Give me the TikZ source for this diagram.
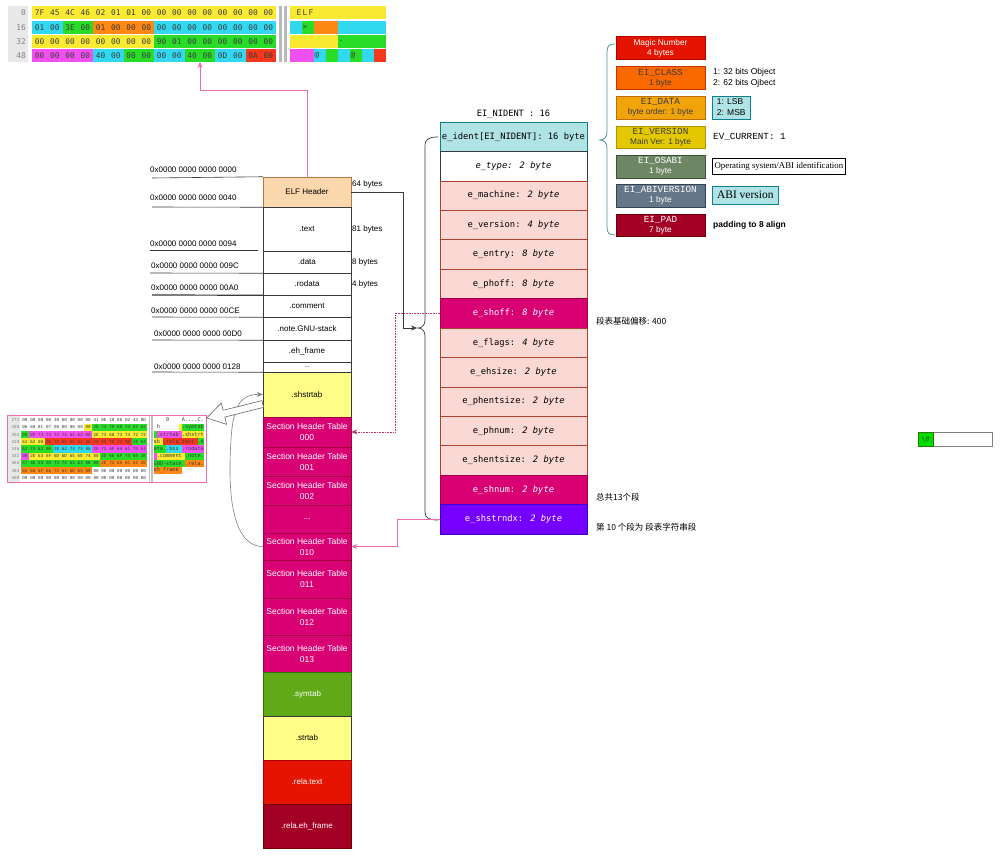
\documentclass[tikz,border=0pt]{standalone}
\usepackage{fontspec}
\setmainfont{Liberation Sans}
\newfontfamily\dmono{DejaVu Sans Mono}
\newfontfamily\cmono{Liberation Mono}
\newfontfamily\tserif{Liberation Serif}
\newfontfamily\cjk{Noto Sans CJK SC}
\usetikzlibrary{arrows.meta,calc}
\newcommand\fsz[2]{\fontsize{#1}{#2}\selectfont}
\newcommand\eimono[1]{{\cmono\fsz{9.3}{10}#1}}
\newcommand\bk{\hphantom{x}}
\definecolor{lc}{RGB}{54,57,61}
\definecolor{elff}{RGB}{250,215,172}
\definecolor{elfd}{RGB}{180,120,60}
\definecolor{yel}{RGB}{255,255,136}
\definecolor{mag}{RGB}{216,0,115}
\definecolor{magd}{RGB}{165,0,64}
\definecolor{grn}{RGB}{96,169,23}
\definecolor{grnd}{RGB}{45,118,0}
\definecolor{redf}{RGB}{229,20,0}
\definecolor{redd}{RGB}{178,0,0}
\definecolor{dred}{RGB}{162,0,37}
\definecolor{dredd}{RGB}{111,0,0}
\definecolor{cyf}{RGB}{176,227,230}
\definecolor{cyd}{RGB}{14,128,136}
\definecolor{pkf}{RGB}{250,217,213}
\definecolor{pkd}{RGB}{174,65,50}
\definecolor{pur}{RGB}{118,0,255}
\definecolor{purd}{RGB}{55,0,204}
\definecolor{org}{RGB}{250,104,0}
\definecolor{orgd}{RGB}{199,53,0}
\definecolor{amb}{RGB}{240,163,10}
\definecolor{ambd}{RGB}{189,112,0}
\definecolor{ylw}{RGB}{227,200,0}
\definecolor{ylwd}{RGB}{176,149,0}
\definecolor{olv}{RGB}{109,135,100}
\definecolor{olvd}{RGB}{58,84,49}
\definecolor{slt}{RGB}{100,118,135}
\definecolor{sltd}{RGB}{49,67,84}
\definecolor{pinkc}{RGB}{232,110,170}
\definecolor{pinkdot}{RGB}{190,50,110}
\definecolor{brc}{RGB}{80,150,160}
\definecolor{hY}{RGB}{250,235,50}
\definecolor{hC}{RGB}{50,215,240}
\definecolor{hG}{RGB}{40,220,40}
\definecolor{hO}{RGB}{255,135,20}
\definecolor{hM}{RGB}{240,80,240}
\definecolor{hR}{RGB}{245,55,30}
\definecolor{hW}{RGB}{255,255,255}
\definecolor{htx}{RGB}{60,60,60}
\definecolor{hlb}{RGB}{232,232,232}
\begin{document}
\begin{tikzpicture}[x=1pt,y=-1pt,
  lbox/.style={draw=lc, line width=0.5pt, minimum width=88pt, inner sep=0pt, align=center, font=\fsz{8}{9.6}},
  shtbox/.style={lbox, fill=mag, draw=magd, text=white, font=\fsz{8.5}{11}},
  fld/.style={draw=pkd, line width=0.5pt, fill=pkf, minimum width=147pt, minimum height=29.43pt, inner sep=0pt, font=\dmono\fsz{8.8}{10}},
  hot/.style={fld, fill=mag, draw=magd, text=white},
  eibox/.style={minimum width=89pt, minimum height=22.5pt, inner sep=0pt, align=center, line width=0.5pt, font=\fsz{8.3}{10}},
  addr/.style={anchor=west, inner sep=0pt, font=\fsz{8}{9.6}},
  note/.style={anchor=west, inner sep=0pt, font=\fsz{8.5}{11}, align=left},
  cnote/.style={anchor=west, inner sep=0pt, font=\cjk\fsz{8.5}{10}},
  sepline/.style={line width=0.6pt, lc},
  hexa/.style={inner sep=0pt, font=\dmono\fsz{7.8}{8}, text=htx},
  hexb/.style={inner sep=0pt, font=\dmono\fsz{4.2}{5}, text=htx},
  arr/.style={-{Stealth[length=6pt,width=5pt]}, line width=0.6pt},
]
\useasboundingbox (0,0) rectangle (1000,856);
\fill[white] (0,0) rectangle (1000,856);

% ---------- top hex dump ----------
\node[inner sep=0pt, minimum width=380pt, minimum height=57pt, anchor=north west] (hexdump) at (7,5) {};
\fill[hlb] (8,6) rectangle (28,62);
\foreach \r/\t in {0/0,1/16,2/32,3/48}
  \node[hexa, anchor=east, text=gray] (lbl\r) at (26,{13+14.2*\r}) {\t};
\foreach \r/\rl in {
 0/{Y/7F,Y/45,Y/4C,Y/46,Y/02,Y/01,Y/01,Y/00,Y/00,Y/00,Y/00,Y/00,Y/00,Y/00,Y/00,Y/00},
 1/{C/01,C/00,G/3E,G/00,O/01,O/00,O/00,O/00,C/00,C/00,C/00,C/00,C/00,C/00,C/00,C/00},
 2/{Y/00,Y/00,Y/00,Y/00,Y/00,Y/00,Y/00,Y/00,G/90,G/01,G/00,G/00,G/00,G/00,G/00,G/00},
 3/{M/00,M/00,M/00,M/00,C/40,C/00,G/00,G/00,C/00,C/00,G/40,G/00,C/0D,C/00,R/0A,R/00}}{
  \foreach \c/\b [count=\k from 0] in \rl {
    \fill[h\c] ({32+15.25*\k},{6.5+14.2*\r}) rectangle ++(15.25,13);
    \fill[h\c] ({290+6*\k},{6.5+14.2*\r}) rectangle ++(6,13);
    \node[hexa] (hx\r-\k) at ({32+15.25*\k+7.6},{13+14.2*\r}) {\b};
  }
}
\foreach \r/\p/\ch in {0/1/E,0/2/L,0/3/F,1/2/>,2/8/.,3/4/@,3/10/@}
  \node[hexa] (as\r-\p) at ({290+6*\p+3},{13+14.2*\r}) {\ch};
\fill[gray!55] (279,6) rectangle (281.5,62);
\fill[gray!55] (284,6) rectangle (286.5,62);

% ---------- left column ----------
\node[lbox, fill=elff, draw=elfd, minimum height=30pt] (elf) at (307,192) {ELF Header};
\node[lbox, minimum height=44pt] (text) at (307,229) {.text};
\node[lbox, minimum height=22pt] (data) at (307,262) {.data};
\node[lbox, minimum height=22pt] (rodata) at (307,284) {.rodata};
\node[lbox, minimum height=22pt] (comment) at (307,306) {.comment};
\node[lbox, minimum height=23pt] (gnustack) at (307,328.5) {.note.GNU-stack};
\node[lbox, minimum height=22pt] (ehframe) at (307,351) {.eh\_frame};
\node[lbox, minimum height=10pt, font=\fsz{6}{6}] (dots1) at (307,367) {...};
\node[lbox, fill=yel, minimum height=45pt] (shstrtab) at (307,394.5) {.shstrtab};
\node[shtbox, minimum height=30pt] (sht000) at (307,432) {Section Header Table\\000};
\node[shtbox, minimum height=29pt] (sht001) at (307,461.5) {Section Header Table\\001};
\node[shtbox, minimum height=29pt] (sht002) at (307,490.5) {Section Header Table\\002};
\node[shtbox, minimum height=28pt] (shtdots) at (307,519) {...};
\node[shtbox, minimum height=27pt] (sht010) at (307,546.5) {Section Header Table\\010};
\node[shtbox, minimum height=38pt] (sht011) at (307,579) {Section Header Table\\011};
\node[shtbox, minimum height=37pt] (sht012) at (307,616.5) {Section Header Table\\012};
\node[shtbox, minimum height=37pt] (sht013) at (307,653.5) {Section Header Table\\013};
\node[lbox, fill=grn, draw=grnd, text=white, minimum height=44pt] (symtab) at (307,694) {.symtab};
\node[lbox, fill=yel, minimum height=44pt] (strtab) at (307,738) {.strtab};
\node[lbox, fill=redf, draw=redd, text=white, minimum height=44pt] (relatext) at (307,782) {.rela.text};
\node[lbox, fill=dred, draw=dredd, text=white, minimum height=44pt] (relaeh) at (307,826) {.rela.eh\_frame};

% addresses
\foreach \n/\yy/\xx/\t in {a0/170/150/0000,a1/198/150/0040,a2/244/150/0094,a3/266/151/009C,a4/288/151/00A0,a5/311/151/00CE,a6/334/154/00D0,a7/367/154/0128}
  \node[addr] (\n) at (\xx,\yy) {0x0000 0000 0000 \t};
\draw[sepline] (152,178) -- (elf.north west);
\draw[sepline] (152,207) -- (elf.south west);
\draw[sepline] (150,250) -- (258,250);
\draw[sepline] (150,273) -- (data.south west);
\draw[sepline, line width=1.2pt] (152,295) -- (rodata.south west);
\draw[sepline] (152,317) -- (comment.south west);
\draw[sepline] (152,340) -- (gnustack.south west);
\draw[sepline] (152,372) -- (dots1.south west);

% sizes
\node[addr] (s64) at (352,184) {64 bytes};
\node[addr] (s81) at (352,229) {81 bytes};
\node[addr] (s8) at (352,262) {8 bytes};
\node[addr] (s4) at (352,284) {4 bytes};

% ---------- header fields ----------
\node[inner sep=0pt, font=\dmono\fsz{8.7}{10}] (einid) at (513.5,114) {EI\_NIDENT : 16};
\node[fld, fill=cyf, draw=cyd] (f0) at (513.5,136.7) {e\_ident[EI\_NIDENT]: 16 byte};
\node[fld, fill=white, draw=lc] (f1) at (513.5,166.1) {\itshape e\_type: 2 byte};
\node[fld] (f2) at (513.5,195.6) {e\_machine: \textit{2 byte}};
\node[fld] (f3) at (513.5,225.0) {e\_version: \textit{4 byte}};
\node[fld] (f4) at (513.5,254.4) {e\_entry: \textit{8 byte}};
\node[fld] (f5) at (513.5,283.9) {e\_phoff: \textit{8 byte}};
\node[hot] (f6) at (513.5,313.3) {e\_shoff: \textit{8 byte}};
\node[fld] (f7) at (513.5,342.7) {e\_flags: \textit{4 byte}};
\node[fld] (f8) at (513.5,372.2) {e\_ehsize: \textit{2 byte}};
\node[fld] (f9) at (513.5,401.6) {e\_phentsize: \textit{2 byte}};
\node[fld] (f10) at (513.5,431.0) {e\_phnum: \textit{2 byte}};
\node[fld] (f11) at (513.5,460.4) {e\_shentsize: \textit{2 byte}};
\node[hot] (f12) at (513.5,489.9) {e\_shnum: \textit{2 byte}};
\node[hot, fill=pur, draw=purd] (f13) at (513.5,519.3) {e\_shstrndx: \textit{2 byte}};

\node[cnote] (n400) at (596,321) {段表基础偏移: 400};
\node[cnote] (n13) at (596,497) {总共13个段};
\node[cnote] (n10) at (596,527) {第 10 个段为 段表字符串段};

% big brace
\draw[line width=0.7pt, lc] (438,137) .. controls (429,137) and (425,139) .. (425,146) -- (425,320) .. controls (425,325) and (422,328) .. (418,328) .. controls (422,328) and (425,331) .. (425,336) -- (425,512) .. controls (425,518) and (429,520) .. (438,520);
\coordinate (btip) at (417,328);
\coordinate (bk) at (403,328);
\draw[arr, lc] (elf.east) -| (bk) -- (btip);

% ---------- e_ident details ----------
\node[eibox, fill=redf, draw=redd, text=white] (magic) at (660.5,48) {Magic Number\\4 bytes};
\node[eibox, fill=org, draw=orgd, text=htx] (eiclass) at (660.5,78) {\eimono{EI\_CLASS}\\1 byte};
\node[eibox, fill=amb, draw=ambd, text=htx] (eidata) at (660.5,107.5) {\eimono{EI\_DATA}\\byte order: 1 byte};
\node[eibox, fill=ylw, draw=ylwd, text=htx] (eiver) at (660.5,137) {\eimono{EI\_VERSION}\\Main Ver: 1 byte};
\node[eibox, fill=olv, draw=olvd, text=white] (eiosabi) at (660.5,166.5) {\eimono{EI\_OSABI}\\1 byte};
\node[eibox, fill=slt, draw=sltd, text=white] (eiabiv) at (660.5,195.5) {\eimono{EI\_ABIVERSION}\\1 byte};
\node[eibox, fill=dred, draw=dredd, text=white] (eipad) at (660.5,225) {\eimono{EI\_PAD}\\7 byte};

\draw[line width=0.8pt, brc] (615,44) .. controls (609,44) and (607,46) .. (607,52) -- (607,132) .. controls (607,137) and (604,140) .. (600,140) .. controls (604,140) and (607,143) .. (607,148) -- (607,227) .. controls (607,233) and (609,235) .. (615,235);

\node[note] (nclass) at (713,77.5) {1: 32 bits Object\\2: 62 bits Ojbect};
\node[note, draw=cyd, fill=cyf, minimum width=38pt, minimum height=23pt, inner xsep=2pt, line width=0.6pt] (nlsb) at (712,107.5) {1: LSB\\2: MSB};
\node[anchor=west, inner sep=0pt, font=\cmono\fsz{9.3}{10}] (nver) at (713,137) {EV\_CURRENT: 1};
\node[anchor=west, draw=black, fill=white, line width=0.8pt, minimum width=133pt, minimum height=16pt, inner sep=1pt, font=\tserif\fsz{8.8}{10}] (nos) at (712,166) {Operating system/ABI identification};
\node[anchor=west, draw=cyd, fill=cyf, line width=0.6pt, minimum width=66pt, minimum height=18pt, inner sep=1pt, font=\tserif\fsz{11.5}{12}] (nabi) at (712,195) {ABI version};
\node[note, font=\bfseries\fsz{8.5}{10}] (npad) at (713,225) {padding to 8 align};

% ---------- far right null box ----------
\node[draw=gray, line width=0.6pt, minimum width=74pt, minimum height=14pt, inner sep=0pt, anchor=west] (nulbox) at (918,439) {};
\node[draw=grnd, fill={rgb,255:red,0;green,220;blue,0}, line width=0.5pt, minimum width=15pt, minimum height=14pt, inner sep=0pt, font=\dmono\fsz{6.5}{7}, text={rgb,255:red,20;green,90;blue,20}] (nulcell) at (925.5,439) {\textbackslash 0};

% ---------- small hex dump ----------
\fill[hlb] (8,416) rectangle (20,481.5);
\foreach \r/\t in {0/272,1/288,2/304,3/320,4/336,5/352,6/368,7/384,8/400}
  \node[hexb, anchor=east, text=gray] (sl\r) at (19.5,{416.5+7.2*\r+3.6}) {\t};
\foreach \r/\rl in {
 0/{W/00,W/00,W/00,W/00,W/30,W/00,W/00,W/00,W/00,W/41,W/0E,W/10,W/86,W/02,W/43,W/0D},
 1/{W/06,W/68,W/8C,W/07,W/08,W/00,W/00,W/00,Y/00,G/2E,G/73,G/79,G/6D,G/74,G/61,G/62},
 2/{G/00,M/2E,M/73,M/74,M/72,M/74,M/61,M/62,M/00,Y/2E,Y/73,Y/68,Y/73,Y/74,Y/72,Y/74},
 3/{Y/61,Y/62,Y/00,R/2E,R/72,R/65,R/6C,R/61,R/2E,R/74,R/65,R/78,R/74,R/00,G/2E,G/64},
 4/{G/61,G/74,G/61,G/00,C/2E,C/62,C/73,C/73,C/00,M/2E,M/72,M/6F,M/64,M/61,M/74,M/61},
 5/{M/00,Y/2E,Y/63,Y/6F,Y/6D,Y/6D,Y/65,Y/6E,Y/74,Y/00,G/2E,G/6E,G/6F,G/74,G/65,G/2E},
 6/{G/47,G/4E,G/55,G/2D,G/73,G/74,G/61,G/63,G/6B,G/00,O/2E,O/72,O/65,O/6C,O/61,O/2E},
 7/{O/65,O/68,O/5F,O/66,O/72,O/61,O/6D,O/65,O/00,W/00,W/00,W/00,W/00,W/00,W/00,W/00},
 8/{W/00,W/00,W/00,W/00,W/00,W/00,W/00,W/00,W/00,W/00,W/00,W/00,W/00,W/00,W/00,W/00}}{
  \foreach \c/\b [count=\k from 0] in \rl {
    \fill[h\c] ({21+7.9*\k},{416.5+7.2*\r}) rectangle ++(7.9,7.2);
    \fill[h\c] ({153.5+3.15*\k},{416.5+7.2*\r}) rectangle ++(3.15,7.2);
    \node[hexb] (sx\r-\k) at ({21+7.9*\k+3.95},{416.5+7.2*\r+3.6}) {\b};
  }
}
\foreach \r/\s in {0/{\bk\bk\bk\bk0\bk\bk\bk\bk A....C.},1/{\bk h\bk\bk\bk\bk\bk\bk\bk.symtab},2/{\bk.strtab\bk.shstrt},3/{ab\bk.rela.text\bk.d},4/{ata\bk.bss\bk.rodata},5/{\bk.comment\bk.note.},6/{GNU-stack\bk.rela.},7/{eh\_frame}}
  \node[anchor=west, inner sep=0pt, font=\dmono\fsz{5.2}{6}, text=htx] (sa\r) at (153.5,{416.5+7.2*\r+3.6}) {\s};
\fill[gray!50] (148.5,416) rectangle (150,481.5);
\fill[gray!50] (151,416) rectangle (152.5,481.5);
\node[draw=pinkc, line width=0.9pt, minimum width=199pt, minimum height=67pt, inner sep=0pt, anchor=north west] (smalldump) at (7,415) {};

% ---------- connectors ----------
\coordinate (hd) at (200,62);
\coordinate (bend) at (200,90);
\draw[arr, pinkc] (elf.north) |- (bend) -- (hd);

\coordinate (c1) at (395,0);
\draw[arr, pinkdot, densely dotted, line width=0.8pt] (f6.west) -- (f6.west -| c1) |- (sht000.east);
\coordinate (c2) at (397,0);
\draw[arr, pinkc] (f13.west) -- (f13.west -| c2) |- (sht010.east);

\draw[arr, gray] (sht010.west) .. controls (226,546) and (229,470) .. (231,440) .. controls (233,404) and (242,394) .. (shstrtab.west);

\begin{scope}[shift={($(shstrtab.west)+(0,9.5)$)}, rotate=194]
  \draw[gray!80!black, fill=white, line width=0.6pt, line join=round] (0,-3.5) -- (40,-3.5) -- (40,-11) -- (57.7,0) -- (40,11) -- (40,3.5) -- (0,3.5) -- cycle;
\end{scope}
\end{tikzpicture}
\end{document}
